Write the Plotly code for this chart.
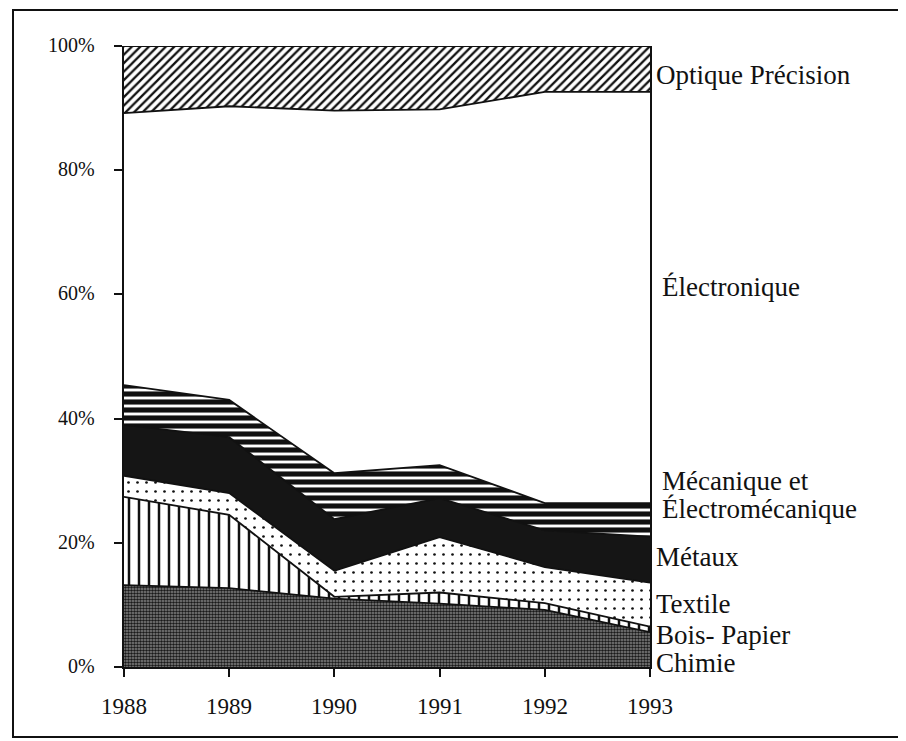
import plotly.graph_objects as go

years = [1988, 1989, 1990, 1991, 1992, 1993]
sectors = ["Chimie", "Bois- Papier", "Textile", "Métaux",
           "Mécanique et Électromécanique", "Électronique", "Optique Précision"]

chimie = [13.2, 12.7, 11.0, 10.2, 9.2, 5.6]
bois_papier = [14.2, 11.8, 0.3, 1.8, 1.1, 0.9]
textile = [3.4, 3.5, 4.2, 8.9, 5.8, 7.1]
metaux = [8.2, 9.0, 8.3, 6.3, 5.9, 7.4]
mecanique = [6.4, 6.0, 7.4, 5.3, 4.4, 5.4]
electronique = [43.8, 47.3, 58.4, 57.3, 66.2, 66.2]
optique = [10.8, 9.7, 10.4, 10.2, 7.4, 7.4]

series = [chimie, bois_papier, textile, metaux, mecanique, electronique, optique]

x_tick_text = ["1988", "1989", "1990", "1991", "1992", "1993"]
y_ticks = [0, 20, 40, 60, 80, 100]
y_tick_text = ["0%", "20%", "40%", "60%", "80%", "100%"]

FONT = "Liberation Serif"
INK = "#111111"

patterns = [
    dict(shape=".", fgcolor="#1a1a1a", bgcolor="#858585", size=3, solidity=0.55, fgopacity=1),
    dict(shape="|", fgcolor=INK, bgcolor="white", size=10, solidity=0.25, fgopacity=1),
    dict(shape=".", fgcolor=INK, bgcolor="white", size=9, solidity=0.07, fgopacity=1),
    None,
    dict(shape="-", fgcolor=INK, bgcolor="white", size=8, solidity=0.64, fgopacity=1),
    None,
    dict(shape="/", fgcolor=INK, bgcolor="white", size=6, solidity=0.38, fgopacity=1),
]
fillcolors = ["#858585", "white", "white", "#151515", "white", "white", "white"]

fig = go.Figure()
for name, vals, pat, fc in zip(sectors, series, patterns, fillcolors):
    tr = dict(x=years, y=vals, name=name, mode="lines", stackgroup="one",
              line=dict(color=INK, width=1.8), fillcolor=fc,
              hoverinfo="skip", showlegend=False)
    if pat is not None:
        tr["fillpattern"] = pat
    fig.add_trace(go.Scatter(**tr))

# labels on the right
label_pos = [
    ("Optique Précision", 95.3, 0),
    ("Électronique", 61.2, 6),
    ("Mécanique et", 30.0, 6),
    ("Électromécanique", 25.4, 6),
    ("Métaux", 17.7, 0),
    ("Textile", 10.1, 0),
    ("Bois- Papier", 5.2, 0),
    ("Chimie", 0.6, 0),
]
for txt, yv, dx in label_pos:
    fig.add_annotation(x=years[-1], y=yv, xref="x", yref="y", text=txt,
                       showarrow=False, xanchor="left", yanchor="middle",
                       xshift=4 + dx,
                       font=dict(family=FONT, size=27, color=INK))

# axis tick labels (serif) as annotations tied to the axes
for xv, txt in zip(years, x_tick_text):
    fig.add_annotation(x=xv, y=0, xref="x", yref="paper", text=txt,
                       showarrow=False, xanchor="center", yanchor="middle",
                       yshift=-39, font=dict(family=FONT, size=23, color=INK))
for yv, txt in zip(y_ticks, y_tick_text):
    fig.add_annotation(x=0, y=yv, xref="paper", yref="y", text=txt,
                       showarrow=False, xanchor="right", yanchor="middle",
                       xshift=-27, yshift=1, font=dict(family=FONT, size=20, color=INK))

# page body has an 8px margin: the figure is drawn at (8, 8)
OFF = 8
W, H = 906 - OFF, 741 - OFF
L, T = 124 - OFF, 46 - OFF
plot_right, plot_bottom = 650 - OFF, 667 - OFF
R, B = W - plot_right, H - plot_bottom
pw, ph = W - L - R, H - T - B


def px2paper_x(px):
    return (px - OFF - L) / pw


def px2paper_y(py):
    return (H - B - (py - OFF)) / ph


fig.add_shape(type="rect", xref="paper", yref="paper",
              x0=px2paper_x(13), x1=px2paper_x(902),
              y0=px2paper_y(737), y1=px2paper_y(10),
              line=dict(color=INK, width=2), fillcolor="rgba(0,0,0,0)",
              layer="above")

fig.update_layout(
    width=W, height=H,
    margin=dict(l=L, r=R, t=T, b=B, pad=0),
    paper_bgcolor="white", plot_bgcolor="white",
    font=dict(family=FONT, color=INK),
    xaxis=dict(range=[1988, 1993], tickvals=years, showticklabels=False,
               showgrid=False, zeroline=False, showline=True, linecolor=INK,
               linewidth=2, ticks="outside", ticklen=8, tickwidth=2, tickcolor=INK),
    yaxis=dict(range=[0, 100], tickvals=y_ticks, showticklabels=False,
               showgrid=False, zeroline=False, showline=True, mirror=True,
               linecolor=INK, linewidth=2, ticks="outside", ticklen=8,
               tickwidth=2, tickcolor=INK),
)

fig.write_html("out.html")
